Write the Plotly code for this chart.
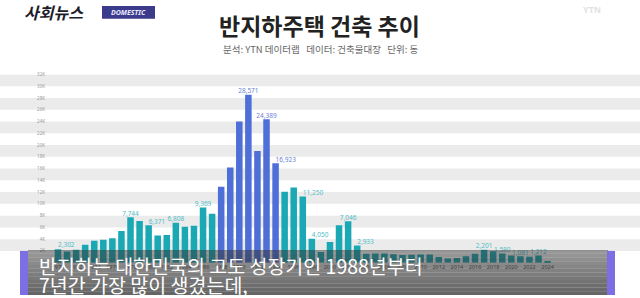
import plotly.graph_objects as go

# ---- data ----
years = list(range(1970, 2025))
values = [2302, 1900, 2200, 3050, 3720, 3880, 4170, 5390, 7744, 7100,
          6371, 4600, 4700, 6808, 6100, 6280, 9369, 8330, 12900, 16200,
          24000, 28571, 19000, 24389, 16923, 12050, 12780, 11250, 4050, 1800,
          3500, 6380, 7046, 2933, 1500, 1577, 1550, 1450, 1300, 1350,
          1400, 1397, 950, 720, 800, 1100, 1500, 2201, 1950, 1580,
          1200, 1081, 1000, 1212, 300]
labeled_years = [1970, 1978, 1980, 1983, 1986, 1991, 1993, 1994, 1997, 1998,
                 2002, 2003, 2017, 2019, 2021, 2023]
right_shifted_labels = [1970, 1980, 1994, 1997, 1998, 2003]
boom_years = list(range(1988, 1995))
ytick_vals = list(range(0, 32001, 2000))
ytick_text = ["0"] + [f"{v // 1000}K" for v in ytick_vals[1:]]
xtick_vals = list(range(1970, 2025, 2))

title_text = "반지하주택 건축 추이"
source_text = "분석: YTN 데이터랩   데이터: 건축물대장   단위: 동"
caption_lines = ["반지하는 대한민국의 고도 성장기인 1988년부터", "7년간 가장 많이 생겼는데,"]

TEAL = "#1aa9b4"
BLUE = "#4f6fd8"

colors = [BLUE if y in boom_years else TEAL for y in years]

fig = go.Figure()
fig.add_trace(go.Bar(
    x=years, y=values, marker=dict(color=colors, line=dict(width=0)),
    width=0.72, hoverinfo="skip",
))

lab_x = [y for y in years if y in labeled_years]
lab_y = [v for y, v in zip(years, values) if y in labeled_years]
lab_t = [f"{v:,}" for v in lab_y]
lab_c = ["#6a82d6" if y in boom_years else "#4fbcc6" for y in lab_x]
lab_pos = ["top right" if y in right_shifted_labels else "top center" for y in lab_x]
fig.add_trace(go.Scatter(
    x=lab_x, y=lab_y, mode="text", text=lab_t, textposition=lab_pos,
    textfont=dict(size=6.5, color=lab_c, family="Noto Sans"),
    cliponaxis=False, hoverinfo="skip",
))

shapes = []
# alternating grey bands
for lo in range(2000, 32000, 4000):
    shapes.append(dict(type="rect", xref="paper", yref="y", x0=0, x1=1, y0=lo, y1=lo + 2000,
                       fillcolor="#ebebeb", line=dict(width=0), layer="below"))

# caption overlay (gradient built from stacked strips)
top, bottom = 252, 298
n = 12
for i in range(n):
    y0 = top + (bottom - top) * i / n
    y1 = top + (bottom - top) * (i + 1) / n
    a = 0.5 + 0.25 * i / (n - 1)
    shapes.append(dict(type="rect", xref="paper", yref="paper",
                       x0=28 / 640, x1=608 / 640,
                       y0=1 - y1 / 298, y1=1 - y0 / 298,
                       fillcolor=f"rgba(50,50,50,{a:.3f})", line=dict(width=0), layer="above"))
# purple side accents
shapes.append(dict(type="rect", xref="paper", yref="paper", x0=20 / 640, x1=28 / 640,
                   y0=0, y1=1 - 253 / 298, fillcolor="#7b6fe3", line=dict(width=0), layer="above"))
shapes.append(dict(type="rect", xref="paper", yref="paper", x0=607 / 640, x1=615 / 640,
                   y0=0, y1=1 - 253 / 298, fillcolor="#7b6fe3", line=dict(width=0), layer="above"))
# logo badge
shapes.append(dict(type="rect", xref="paper", yref="paper", x0=102 / 640, x1=155 / 640,
                   y0=1 - 16 / 298, y1=1 - 3 / 298, fillcolor="#3c3a8a", line=dict(width=0), layer="above"))

annotations = [
    dict(text=f"<b>{title_text}</b>", x=319 / 640, y=1 - 22 / 298, xref="paper", yref="paper",
         showarrow=False, font=dict(size=23, color="#222222", family="Noto Sans CJK KR"),
         xanchor="center", yanchor="middle"),
    dict(text=source_text, x=421 / 640, y=1 - 47 / 298, xref="paper", yref="paper",
         showarrow=False, font=dict(size=9.5, color="#666666", family="Noto Sans CJK KR"),
         xanchor="right", yanchor="middle"),
    dict(text=caption_lines[0], x=37 / 640, y=1 - 268 / 298, xref="paper", yref="paper",
         showarrow=False, font=dict(size=19.5, color="#ffffff", family="Noto Sans CJK KR"),
         xanchor="left", yanchor="middle"),
    dict(text=caption_lines[1], x=37 / 640, y=1 - 287 / 298, xref="paper", yref="paper",
         showarrow=False, font=dict(size=19.5, color="#ffffff", family="Noto Sans CJK KR"),
         xanchor="left", yanchor="middle"),
    dict(text="<b><i>사회뉴스</i></b>", x=22 / 640, y=1 - 9 / 298, xref="paper", yref="paper",
         showarrow=False, font=dict(size=16, color="#1c1c2a", family="Noto Sans CJK KR"),
         xanchor="left", yanchor="middle"),
    dict(text="<b><i>DOMESTIC</i></b>", x=128 / 640, y=1 - 9.5 / 298, xref="paper", yref="paper",
         showarrow=False, font=dict(size=7, color="#e8e8ff", family="Noto Sans"),
         xanchor="center", yanchor="middle"),
    dict(text="<b>YTN</b>", x=592 / 640, y=1 - 7 / 298, xref="paper", yref="paper",
         showarrow=False, font=dict(size=9, color="#e2e2e2", family="Noto Sans"),
         xanchor="center", yanchor="middle"),
]

fig.update_layout(
    width=640, height=298, margin=dict(l=0, r=0, t=0, b=0),
    paper_bgcolor="#ffffff", plot_bgcolor="#ffffff",
    showlegend=False, bargap=0.28,
    xaxis=dict(domain=[50 / 640, 592 / 640], range=[1969.12, 2028.9],
               tickvals=xtick_vals, ticktext=[str(v) for v in xtick_vals],
               tickfont=dict(size=5.5, color="#555555", family="Noto Sans"),
               showgrid=False, zeroline=False, showline=False, ticks=""),
    yaxis=dict(domain=[1 - 265 / 298, 1 - 73 / 298], range=[0, 32000],
               tickvals=ytick_vals, ticktext=ytick_text,
               tickfont=dict(size=4.5, color="#999999", family="Noto Sans"),
               showgrid=False, zeroline=False, showline=False, ticks="", ticklabelstandoff=4),
    shapes=shapes, annotations=annotations,
)

fig.write_html("out.html")
